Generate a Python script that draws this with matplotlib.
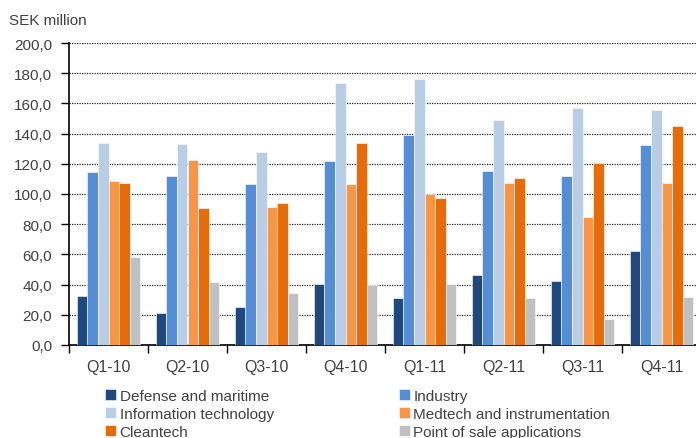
import matplotlib
matplotlib.use("Agg")
import matplotlib.pyplot as plt
import numpy as np

plt.rcParams['font.family'] = ['Liberation Sans', 'DejaVu Sans']

quarters = ["Q1-10", "Q2-10", "Q3-10", "Q4-10", "Q1-11", "Q2-11", "Q3-11", "Q4-11"]

defense = [32.6, 21.4, 25.0, 40.2, 30.9, 46.1, 42.2, 62.3]
industry = [114.4, 111.7, 106.6, 121.9, 138.9, 115.0, 111.7, 132.2]
info_tech = [133.8, 132.9, 127.8, 173.7, 176.2, 149.0, 156.7, 155.8]
medtech = [108.4, 122.7, 91.2, 106.6, 100.0, 107.5, 84.6, 107.5]
cleantech = [107.5, 90.5, 93.8, 133.8, 97.1, 110.8, 120.3, 145.0]
pos_apps = [58.0, 41.9, 34.2, 39.5, 40.2, 30.9, 17.4, 31.8]

series_names = ["Defense and maritime", "Industry", "Information technology",
                "Medtech and instrumentation", "Cleantech", "Point of sale applications"]
series_values = [defense, industry, info_tech, medtech, cleantech, pos_apps]
colors = ["#1F497D", "#558ED5", "#B9CDE5", "#F79646", "#E46C0A", "#C0C0C0"]

fig = plt.figure(figsize=(6.96, 4.39), dpi=100)
ax = fig.add_axes([69 / 696, 1 - 346 / 439, 632 / 696, 302 / 439])

x = np.arange(len(quarters))
width = 0.135
bars = []
for i, (name, vals, c) in enumerate(zip(series_names, series_values, colors)):
    offset = (i - 2.5) * width
    b = ax.bar(x + offset, vals, width, color=c, label=name, zorder=3,
               edgecolor="white", linewidth=0.4)
    bars.append(b)

ax.set_xlim(-0.5, len(quarters) - 0.5)
ax.set_ylim(0, 200)
ax.set_yticks(np.arange(0, 201, 20))
ax.set_yticklabels([f"{v:.1f}".replace(".", ",") for v in range(0, 201, 20)],
                   fontsize=11, color="#404040")

# category boundaries carry the tick marks, centres carry the labels
ax.set_xticks(np.arange(-0.5, len(quarters), 1.0))
ax.set_xticklabels([])
ax.set_xticks(x, minor=True)
ax.set_xticklabels(quarters, minor=True, fontsize=11.5, color="#404040")
ax.tick_params(axis="x", which="major", length=6, width=1)
ax.tick_params(axis="x", which="minor", length=0, pad=10)
ax.tick_params(axis="y", length=6, width=1, pad=6)

ax.grid(axis="y", linestyle=(0, (1, 1)), color="#222222", linewidth=0.9, zorder=0)
for s in ["top", "right"]:
    ax.spines[s].set_visible(False)
ax.spines["left"].set_linewidth(1.2)
ax.spines["bottom"].set_linewidth(1.2)

fig.text(9 / 696, 1 - 21 / 439, "SEK million", fontsize=11, color="#404040", va="center")

order = [0, 2, 4, 1, 3, 5]
fig.legend([bars[i] for i in order], [series_names[i] for i in order],
           ncol=2, loc="upper left", bbox_to_anchor=(105 / 696, 1 - 390 / 439),
           frameon=False, fontsize=11, labelcolor="#404040",
           handlelength=0.75, handleheight=0.75, handletextpad=0.2,
           columnspacing=8.2, labelspacing=0.25, borderpad=0, borderaxespad=0)

fig.savefig("out.png", dpi=100)
